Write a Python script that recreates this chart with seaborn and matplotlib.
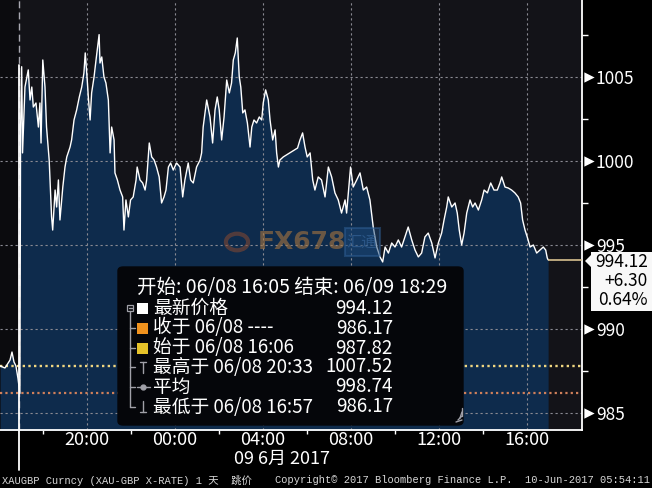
import numpy as np
import pandas as pd
import matplotlib
matplotlib.use("Agg")
import matplotlib.pyplot as plt
import seaborn as sns
from matplotlib.patches import Rectangle, Polygon, FancyBboxPatch, Circle
from matplotlib.lines import Line2D

# XAUGBP 价格 (小时数从 06/08 00:00 起算)
hours = [16.05, 16.27, 16.50, 16.59, 16.68, 16.77, 16.86, 16.95, 16.98, 17.03,
         17.07, 17.18, 17.33, 17.41, 17.49, 17.56, 17.68, 17.79, 17.86, 17.91,
         17.99, 18.09, 18.16, 18.28, 18.39, 18.44, 18.55, 18.62, 18.70, 18.77,
         18.90, 19.00, 19.08, 19.23, 19.30, 19.41, 19.53, 19.65, 19.76, 19.86,
         19.92, 20.01, 20.06, 20.14, 20.21, 20.32, 20.41, 20.55, 20.59, 20.67,
         20.77, 20.86, 20.97, 21.05, 21.12, 21.23, 21.27, 21.38, 21.50, 21.62,
         21.68, 21.77, 21.88, 21.98, 22.10, 22.23, 22.28, 22.41, 22.53, 22.64,
         22.71, 22.83, 22.94, 23.05, 23.16, 23.28, 23.39, 23.50, 23.59, 23.70,
         23.80, 23.92, 24.07, 24.23, 24.35, 24.45, 24.60, 24.71, 24.83, 24.98,
         25.14, 25.21, 25.28, 25.44, 25.59, 25.71, 25.82, 25.92, 26.01, 26.12,
         26.23, 26.35, 26.47, 26.57, 26.65, 26.74, 26.83, 26.92, 26.99, 27.08,
         27.18, 27.29, 27.41, 27.49, 27.59, 27.71, 27.83, 27.94, 28.01, 28.12,
         28.24, 28.32, 28.44, 28.55, 28.62, 28.70, 28.77, 28.92, 29.57, 29.68,
         29.80, 29.91, 30.01, 30.14, 30.26, 30.36, 30.51, 30.66, 30.82, 30.97,
         31.12, 31.27, 31.42, 31.57, 31.73, 31.80, 31.98, 32.10, 32.26, 32.41,
         32.56, 32.71, 32.86, 33.01, 33.17, 33.32, 33.44, 33.55, 33.70, 33.85,
         34.00, 34.15, 34.30, 34.45, 34.60, 34.76, 34.91, 35.06, 35.21, 35.36,
         35.51, 35.67, 35.82, 35.97, 36.12, 36.23, 36.35, 36.42, 36.58, 36.73,
         36.83, 36.92, 37.03, 37.14, 37.26, 37.41, 37.53, 37.64, 37.79, 37.94,
         38.05, 38.20, 38.35, 38.50, 38.65, 38.77, 38.85, 39.00, 39.15, 39.30,
         39.45, 39.60, 39.71, 39.80, 39.91, 40.01, 40.14, 40.29, 40.44, 40.59,
         40.74, 40.85, 40.92, 40.96]
prices = [987.80, 987.68, 988.15, 988.63, 988.04, 987.80, 987.08, 986.17, 1001.85, 1005.61,
          1000.48, 1004.40, 1005.42, 1003.63, 1004.40, 1003.21, 1003.45, 1002.02, 1003.45, 1001.07,
          1006.01, 1004.40, 1002.02, 1000.06, 996.67, 995.89, 998.27, 997.26, 998.87, 996.49,
          998.45, 999.64, 1000.24, 1000.83, 1001.25, 1002.44, 1003.04, 1003.81, 1004.40, 1005.24,
          1006.43, 1004.82, 1003.81, 1002.44, 1004.05, 1005.00, 1006.01, 1007.52, 1005.83, 1006.19,
          1005.00, 1004.64, 1003.63, 1000.48, 1002.02, 1001.25, 999.29, 998.87, 998.27, 997.86,
          995.89, 997.68, 996.67, 997.68, 997.86, 998.87, 999.64, 998.87, 998.69, 998.27,
          998.87, 1001.07, 1000.24, 1000.06, 999.64, 999.05, 997.50, 997.86, 998.27, 999.64,
          999.88, 999.46, 999.88, 999.64, 997.86, 998.87, 999.88, 998.87, 998.69, 999.64,
          1000.06, 1000.48, 1002.02, 1003.63, 1002.62, 1001.07, 1003.04, 1003.81, 1003.04, 1001.25,
          1002.62, 1004.82, 1004.05, 1004.64, 1006.01, 1006.43, 1007.32, 1005.00, 1004.40, 1002.86,
          1003.04, 1002.26, 1000.83, 1002.02, 1002.44, 1002.26, 1002.62, 1002.44, 1003.45, 1004.23,
          1003.63, 1002.44, 1001.25, 1001.85, 1000.48, 999.64, 1000.06, 1000.24, 1000.77, 1001.25,
          1001.67, 1000.83, 1000.24, 1000.48, 998.87, 998.27, 999.05, 998.87, 997.86, 999.64,
          999.05, 998.10, 997.68, 996.90, 997.68, 996.90, 999.64, 998.45, 998.87, 999.29,
          998.27, 998.45, 997.68, 996.07, 994.88, 994.29, 993.99, 994.88, 994.52, 995.12,
          994.88, 995.30, 994.88, 995.48, 996.07, 995.30, 994.70, 994.29, 994.52, 995.48,
          995.71, 995.12, 994.23, 995.12, 995.71, 996.49, 997.26, 997.86, 997.26, 997.50,
          996.90, 995.89, 995.00, 995.71, 996.90, 997.68, 997.26, 997.50, 997.08, 997.68,
          998.27, 998.10, 998.69, 998.27, 998.27, 998.69, 999.05, 998.45, 998.39, 998.27,
          998.10, 997.86, 997.50, 996.49, 995.89, 995.48, 994.88, 995.00, 994.52, 994.70,
          994.88, 994.70, 994.23, 994.12]

y_ticks = [985, 990, 995, 1000, 1005]
y_minor = [987.5, 992.5, 997.5, 1002.5, 1007.5]
x_ticks = [20, 24, 28, 32, 36, 40]
x_minor = [18, 22, 26, 30, 34, 38]
x_labels = ["20:00", "00:00", "04:00", "08:00", "12:00", "16:00"]
date_label = "09 6月 2017"

session_break = 16.93
open_level = 987.82
close_level = 986.17
last_price = 994.12
last_box = ["994.12", "+6.30", "0.64%"]

legend_title = "开始: 06/08 16:05 结束: 06/09 18:29"
legend_names = ["最新价格", "收于 06/08 ----", "始于 06/08 16:06",
                "最高于 06/08 20:33", "平均", "最低于 06/08 16:57"]
legend_values = ["994.12", "986.17", "987.82", "1007.52", "998.74", "986.17"]

footer_left = "XAUGBP Curncy (XAU-GBP X-RATE) 1 天  跳价"
footer_mid = "Copyright\u00a9 2017 Bloomberg Finance L.P."
footer_right = "10-Jun-2017 05:54:11"

sns.set_theme(style="dark")
plt.rcParams['font.family'] = ['Noto Sans CJK SC', 'DejaVu Sans']
plt.rcParams['axes.unicode_minus'] = False

W, H = 652, 488
def fx(px):
    return px / W
def fy(py):
    return 1 - py / H

fig = plt.figure(figsize=(6.52, 4.88), dpi=100, facecolor='black')
ax = fig.add_axes([0, fy(430), fx(582), 430 / H])
ax.set_facecolor('#131318')

x_lo, x_hi = 16.045, 42.5
ax.set_xlim(x_lo, x_hi)
ax.set_ylim(983.99, 1009.58)

df = pd.DataFrame({'t': hours, 'price': prices})

# 左侧会话背景稍暗
ax.axvspan(x_lo, session_break, color='#0b0b0e', zorder=0.5, lw=0)
ax.fill_between(df['t'], df['price'], 980, color='#0e2b4c', lw=0, zorder=1)
sns.lineplot(data=df, x='t', y='price', color='white', lw=1.0, ax=ax,
             estimator=None, sort=False, zorder=4)

# 网格
for y in y_ticks:
    ax.axhline(y, color='#8a8a92', lw=0.8, ls=(0, (2, 2.5)), zorder=2)
for x in x_ticks:
    ax.axvline(x, color='#8a8a92', lw=0.8, ls=(0, (2, 2.5)), zorder=2)
ax.axvline(session_break, color='#a8a8b0', lw=1.0, ls=(0, (5, 3)), zorder=2)
ax.axvline(session_break, ymin=-0.093, ymax=0.85, color='white', lw=1.3,
           zorder=5, clip_on=False)

# 开盘/收盘参考线
ax.axhline(open_level, color='#f0d680', lw=1.7, ls=(0, (1, 1.4)), zorder=2)
ax.axhline(close_level, color='#d0805a', lw=1.6, ls=(0, (1, 1.4)), zorder=2)
ax.hlines(last_price, hours[-1], x_hi, color='#e8d09a', lw=1.1, zorder=4)

for s in ['top', 'left']:
    ax.spines[s].set_visible(False)
for s in ['bottom', 'right']:
    ax.spines[s].set_visible(True)
    ax.spines[s].set_color('white')
    ax.spines[s].set_linewidth(1.3)
ax.set_xlabel('')
ax.set_ylabel('')

ax.yaxis.tick_right()
ax.set_yticks(y_ticks)
ax.set_yticklabels([str(v) for v in y_ticks])
ax.set_yticks(y_minor, minor=True)
ax.tick_params(axis='y', which='major', length=0, pad=10, labelsize=12.5,
               labelcolor='white', right=True, left=False)
ax.tick_params(axis='y', which='minor', length=4, width=1, color='white',
               direction='out', right=True, left=False)
ax.set_xticks(x_ticks)
ax.set_xticklabels(x_labels)
ax.set_xticks(x_minor, minor=True)
ax.tick_params(axis='x', which='major', length=0, pad=1, labelsize=13,
               labelcolor='white', bottom=True)
ax.tick_params(axis='x', which='minor', length=3, width=1, color='white',
               direction='out', bottom=True)

# 右侧刻度三角
ax.scatter([1.0112] * len(y_ticks), y_ticks, marker='>', s=55, color='white',
           transform=ax.get_yaxis_transform(), clip_on=False, zorder=6, lw=0)

fig.text(fx(234), fy(459), date_label, color='white', fontsize=13,
         ha='left', va='center')

# 水印
fig.patches.append(Circle((fx(237), fy(242)), 0.017, transform=fig.transFigure,
                          fill=False, edgecolor='#8a4a30', lw=3, alpha=0.55, zorder=3))
fig.text(fx(302), fy(242), "FX678", color='#a8763f', alpha=0.6, fontsize=18,
         fontweight='bold', ha='center', va='center', family=['DejaVu Sans'])
fig.patches.append(Rectangle((fx(345), fy(256)), fx(35), 28 / H, transform=fig.transFigure,
                             facecolor='#1d4a7a', edgecolor='#2f5f95', alpha=0.5, lw=1.5, zorder=3))
fig.text(fx(362), fy(242), "汇通", color='#3a6aa0', alpha=0.6, fontsize=11,
         ha='center', va='center')

# 信息框
box = FancyBboxPatch((fx(118), fy(425)), fx(345), 158 / H,
                     boxstyle="round,pad=0,rounding_size=0.008",
                     transform=fig.transFigure, facecolor='#05060a',
                     edgecolor='#05060a', zorder=5)
fig.patches.append(box)
fig.text(fx(137), fy(287), legend_title, color='white', fontsize=14,
         ha='left', va='center', zorder=6)
fs = 13.5
row_y = [308, 328, 348, 367, 387, 407]
for name, val, ry in zip(legend_names, legend_values, row_y):
    fig.text(fx(153), fy(ry), name, color='white', fontsize=fs, ha='left',
             va='center', zorder=6)
    fig.text(fx(393), fy(ry), val, color='white', fontsize=fs, ha='right',
             va='center', zorder=6)

swatches = ['white', '#f0921e', '#e6c22a']
for c, ry in zip(swatches, row_y[:3]):
    fig.patches.append(Rectangle((fx(137), fy(ry + 5.5)), fx(11), 11 / H,
                                 transform=fig.transFigure, facecolor=c,
                                 edgecolor='none', zorder=6))

tree = '#a0a0a8'
def fline(xs, ys, **kw):
    fig.add_artist(Line2D([fx(v) for v in xs], [fy(v) for v in ys],
                          transform=fig.transFigure, color=tree, lw=1, zorder=6, **kw))

fig.patches.append(Rectangle((fx(127), fy(311)), fx(6), 6 / H, transform=fig.transFigure,
                             facecolor='none', edgecolor=tree, lw=0.9, zorder=6))
fline([128.5, 131.5], [308, 308])
fline([130, 130], [311, 407])
for ry in row_y[1:]:
    fline([130, 135], [ry, ry])
# 最高/平均/最低 图标
fline([143, 143], [362, 373])
fline([140, 146], [362, 362])
fline([137, 150], [387, 387])
fig.add_artist(Line2D([fx(143)], [fy(387)], transform=fig.transFigure, marker='o',
                      ms=3.5, color=tree, zorder=6))
fline([143, 143], [401, 412])
fline([140, 146], [412, 412])
# 右下角拖拽纹
for k in range(4):
    fline([462 - 2 * k, 462], [416 + 2 * k, 416 + 2 * k - (8 - 2 * k)])

# 最新价格标签
pts = [(585, 261), (591, 255), (591, 252), (652, 252), (652, 311), (591, 311), (591, 267)]
fig.patches.append(Polygon([(fx(a), fy(b)) for a, b in pts], closed=True,
                           transform=fig.transFigure, facecolor='#f8f8f8',
                           edgecolor='none', zorder=6))
for txt, ry in zip(last_box, [262, 281, 300]):
    fig.text(fx(648), fy(ry), txt, color='black', fontsize=12.5, ha='right',
             va='center', zorder=7)

# 页脚
foot = ['Liberation Mono', 'Noto Sans CJK SC']
fig.text(fx(2), fy(480), footer_left, color='#d8d8d8', fontsize=7.5,
         ha='left', va='center', family=foot)
fig.text(fx(275), fy(480), footer_mid, color='#d8d8d8', fontsize=7.5,
         ha='left', va='center', family=foot)
fig.text(fx(650), fy(480), footer_right, color='#d8d8d8', fontsize=7.5,
         ha='right', va='center', family=foot)

fig.savefig('out.png', dpi=100, facecolor='black')
